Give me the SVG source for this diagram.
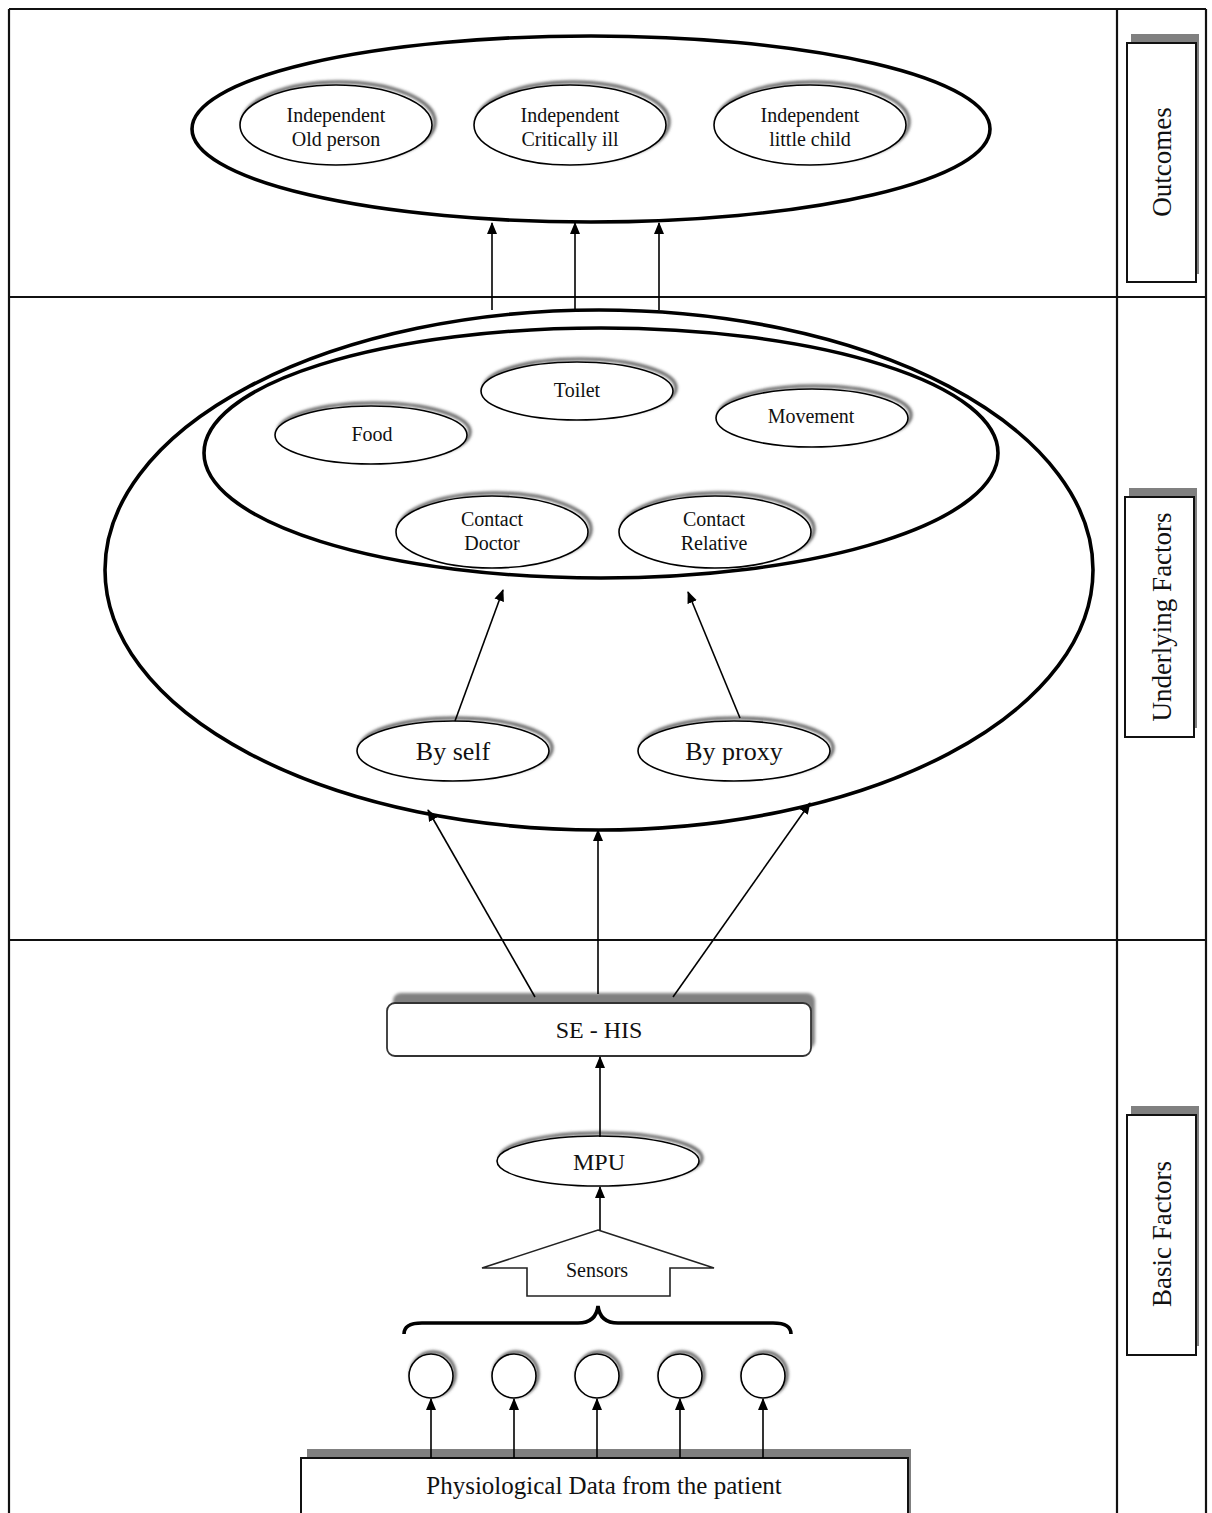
<svg xmlns="http://www.w3.org/2000/svg" width="1212" height="1513" viewBox="0 0 1212 1513">
<defs>
  <filter id="blur" x="-10%" y="-20%" width="120%" height="140%"><feGaussianBlur stdDeviation="1.6"/></filter>
  <marker id="arr" markerUnits="userSpaceOnUse" markerWidth="12" markerHeight="12" viewBox="0 0 12 12" refX="11" refY="6" orient="auto">
    <path d="M0,1 L12,6 L0,11 Z" fill="#000"/>
  </marker>
  <style>
    .frame{stroke:#111;stroke-width:2.2;fill:none}
    .big{fill:none;stroke:#000;stroke-width:3.6}
    .node{fill:#fff;stroke:#000;stroke-width:1.6}
    .shadow{fill:none;stroke:#555;stroke-width:3;filter:url(#blur)}
    .boxshadow{fill:#808080}
    .t{font-family:"Liberation Serif","Times New Roman",serif;fill:#111;text-anchor:middle}
    .s20{font-size:20px}
    .s24{font-size:24px}
    .s26{font-size:26px}
    .side{font-size:27px}
    .conn line,.conn path{stroke:#000;stroke-width:1.6;fill:none}
  </style>
</defs>
<rect width="1212" height="1513" fill="#fff"/>

<g id="frame">
  <line class="frame" x1="9" y1="9" x2="1206" y2="9"/>
  <line class="frame" x1="9" y1="9" x2="9" y2="1513"/>
  <line class="frame" x1="1206" y1="9" x2="1206" y2="1513"/>
  <line class="frame" x1="1117" y1="9" x2="1117" y2="1513"/>
  <line class="frame" x1="9" y1="297" x2="1206" y2="297"/>
  <line class="frame" x1="9" y1="940" x2="1206" y2="940"/>
</g>

<g id="label-outcomes">
  <rect class="boxshadow" x="1131" y="34" width="68" height="240"/>
  <rect x="1127" y="43" width="69" height="239" fill="#fff" stroke="#111" stroke-width="2"/>
  <text class="t side" transform="translate(1171,162) rotate(-90)">Outcomes</text>
</g>
<g id="label-underlying">
  <rect class="boxshadow" x="1129" y="488" width="68" height="240"/>
  <rect x="1125" y="497" width="69" height="240" fill="#fff" stroke="#111" stroke-width="2"/>
  <text class="t side" transform="translate(1171,617) rotate(-90)">Underlying Factors</text>
</g>
<g id="label-basic">
  <rect class="boxshadow" x="1131" y="1106" width="68" height="240"/>
  <rect x="1127" y="1115" width="69" height="240" fill="#fff" stroke="#111" stroke-width="2"/>
  <text class="t side" transform="translate(1171,1234) rotate(-90)">Basic Factors</text>
</g>

<g id="outcomes-group">
  <ellipse class="big" cx="591" cy="129" rx="399" ry="93"/>
</g>
<g id="old-person">
  <ellipse class="shadow" cx="339" cy="122" rx="96" ry="40"/>
  <ellipse class="node" cx="336" cy="125" rx="96" ry="40"/>
  <text class="t s20" x="336" y="122">Independent</text>
  <text class="t s20" x="336" y="146">Old person</text>
</g>
<g id="critically-ill">
  <ellipse class="shadow" cx="573" cy="122" rx="96" ry="40"/>
  <ellipse class="node" cx="570" cy="125" rx="96" ry="40"/>
  <text class="t s20" x="570" y="122">Independent</text>
  <text class="t s20" x="570" y="146">Critically ill</text>
</g>
<g id="little-child">
  <ellipse class="shadow" cx="813" cy="122" rx="96" ry="40"/>
  <ellipse class="node" cx="810" cy="125" rx="96" ry="40"/>
  <text class="t s20" x="810" y="122">Independent</text>
  <text class="t s20" x="810" y="146">little child</text>
</g>

<g id="underlying-outer">
  <ellipse class="big" cx="599" cy="570" rx="494" ry="260"/>
</g>
<g id="underlying-inner">
  <ellipse class="big" cx="601" cy="453" rx="397" ry="125"/>
</g>
<g id="toilet">
  <ellipse class="shadow" cx="580" cy="388" rx="96" ry="29"/>
  <ellipse class="node" cx="577" cy="391" rx="96" ry="29"/>
  <text class="t s20" x="577" y="397">Toilet</text>
</g>
<g id="food">
  <ellipse class="shadow" cx="374" cy="432" rx="96" ry="29"/>
  <ellipse class="node" cx="371" cy="435" rx="96" ry="29"/>
  <text class="t s20" x="372" y="441">Food</text>
</g>
<g id="movement">
  <ellipse class="shadow" cx="815" cy="415" rx="96" ry="29"/>
  <ellipse class="node" cx="812" cy="418" rx="96" ry="29"/>
  <text class="t s20" x="811" y="423">Movement</text>
</g>
<g id="contact-doctor">
  <ellipse class="shadow" cx="495" cy="529" rx="96" ry="36"/>
  <ellipse class="node" cx="492" cy="532" rx="96" ry="36"/>
  <text class="t s20" x="492" y="526">Contact</text>
  <text class="t s20" x="492" y="550">Doctor</text>
</g>
<g id="contact-relative">
  <ellipse class="shadow" cx="718" cy="529" rx="96" ry="36"/>
  <ellipse class="node" cx="715" cy="532" rx="96" ry="36"/>
  <text class="t s20" x="714" y="526">Contact</text>
  <text class="t s20" x="714" y="550">Relative</text>
</g>
<g id="by-self">
  <ellipse class="shadow" cx="456" cy="748" rx="96" ry="30"/>
  <ellipse class="node" cx="453" cy="751" rx="96" ry="30"/>
  <text class="t s26" x="453" y="760">By self</text>
</g>
<g id="by-proxy">
  <ellipse class="shadow" cx="737" cy="748" rx="96" ry="30"/>
  <ellipse class="node" cx="734" cy="751" rx="96" ry="30"/>
  <text class="t s26" x="734" y="760">By proxy</text>
</g>

<g id="se-his">
  <rect class="boxshadow" x="393" y="993" width="422" height="56" rx="8" filter="url(#blur)"/>
  <rect x="387" y="1003" width="424" height="53" rx="8" fill="#fff" stroke="#333" stroke-width="1.8"/>
  <text class="t s24" x="599" y="1038">SE - HIS</text>
</g>
<g id="mpu">
  <ellipse class="shadow" cx="601" cy="1158" rx="101" ry="25"/>
  <ellipse class="node" cx="598" cy="1161" rx="101" ry="25"/>
  <text class="t s24" x="599" y="1170">MPU</text>
</g>
<g id="sensors">
  <polygon points="598,1230 714,1268 670,1268 670,1296 527,1296 527,1268 482,1268" fill="#fff" stroke="#222" stroke-width="1.6"/>
  <text class="t s20" x="597" y="1277">Sensors</text>
</g>
<g id="brace">
  <path d="M404,1334 Q404,1323 422,1323 L578,1323 Q596,1323 598,1306 Q600,1323 618,1323 L773,1323 Q791,1323 791,1334" fill="none" stroke="#000" stroke-width="3.6"/>
</g>
<g id="sensor-circles">
  <circle class="shadow" cx="433" cy="1374" r="22"/>
  <circle class="node" cx="431" cy="1376" r="22"/>
  <circle class="shadow" cx="516" cy="1374" r="22"/>
  <circle class="node" cx="514" cy="1376" r="22"/>
  <circle class="shadow" cx="599" cy="1374" r="22"/>
  <circle class="node" cx="597" cy="1376" r="22"/>
  <circle class="shadow" cx="682" cy="1374" r="22"/>
  <circle class="node" cx="680" cy="1376" r="22"/>
  <circle class="shadow" cx="765" cy="1374" r="22"/>
  <circle class="node" cx="763" cy="1376" r="22"/>
</g>
<g id="physiological-data">
  <rect class="boxshadow" x="307" y="1449" width="604" height="80"/>
  <rect x="301" y="1458" width="607" height="80" fill="#fff" stroke="#111" stroke-width="2"/>
  <text class="t" style="font-size:25px" x="604" y="1494">Physiological Data from the patient</text>
</g>

<g id="connectors" class="conn">
  <line x1="492" y1="310" x2="492" y2="223" marker-end="url(#arr)"/>
  <line x1="575" y1="310" x2="575" y2="223" marker-end="url(#arr)"/>
  <line x1="659" y1="310" x2="659" y2="223" marker-end="url(#arr)"/>
  <line x1="455" y1="721" x2="503" y2="590" marker-end="url(#arr)"/>
  <line x1="740" y1="718" x2="688" y2="592" marker-end="url(#arr)"/>
  <line x1="535" y1="997" x2="428" y2="810" marker-end="url(#arr)"/>
  <line x1="598" y1="994" x2="598" y2="830" marker-end="url(#arr)"/>
  <line x1="673" y1="997" x2="810" y2="803" marker-end="url(#arr)"/>
  <line x1="600" y1="1137" x2="600" y2="1057" marker-end="url(#arr)"/>
  <line x1="600" y1="1230" x2="600" y2="1187" marker-end="url(#arr)"/>
  <line x1="431" y1="1458" x2="431" y2="1399" marker-end="url(#arr)"/>
  <line x1="514" y1="1458" x2="514" y2="1399" marker-end="url(#arr)"/>
  <line x1="597" y1="1458" x2="597" y2="1399" marker-end="url(#arr)"/>
  <line x1="680" y1="1458" x2="680" y2="1399" marker-end="url(#arr)"/>
  <line x1="763" y1="1458" x2="763" y2="1399" marker-end="url(#arr)"/>
</g>
</svg>
